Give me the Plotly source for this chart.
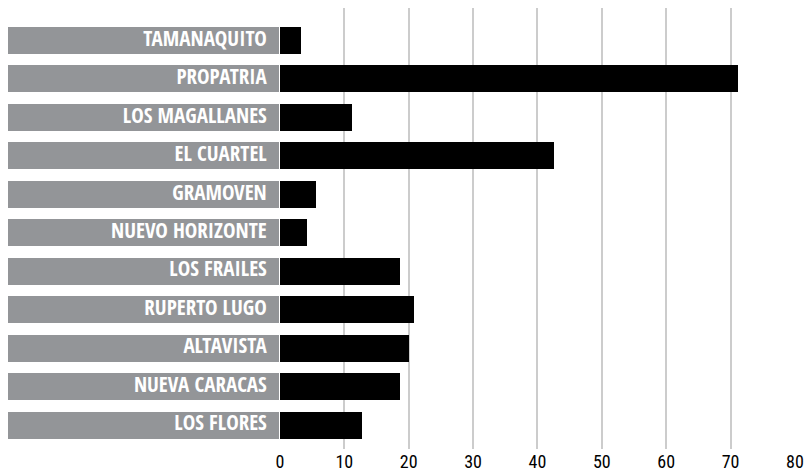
import plotly.graph_objects as go

categories = ["TAMANAQUITO", "PROPATRIA", "LOS MAGALLANES", "EL CUARTEL", "GRAMOVEN",
              "NUEVO HORIZONTE", "LOS FRAILES", "RUPERTO LUGO", "ALTAVISTA",
              "NUEVA CARACAS", "LOS FLORES"]
values = [3.3, 71.1, 11.2, 42.6, 5.6, 4.2, 18.6, 20.8, 20.0, 18.6, 12.7]
tick_vals = [0, 10, 20, 30, 40, 50, 60, 70, 80]

LABEL_FONT = "Open Sans Condensed, Roboto Condensed, DejaVu Sans Condensed, sans-serif"
TICK_FONT = "Roboto Condensed, Open Sans Condensed, DejaVu Sans Condensed, sans-serif"
GRAY = "#939598"

fig = go.Figure()

# label background boxes
fig.add_trace(go.Bar(
    y=categories, x=[1] * len(categories), orientation="h",
    marker=dict(color=GRAY, line=dict(width=0)), width=0.7,
    xaxis="x2", yaxis="y", hoverinfo="skip", showlegend=False,
))
# label text
fig.add_trace(go.Scatter(
    y=categories, x=[0.955] * len(categories), mode="text",
    text=categories, textposition="middle left",
    textfont=dict(family=LABEL_FONT, size=21, color="white", weight="bold"),
    xaxis="x2", yaxis="y", hoverinfo="skip", showlegend=False,
))
# data bars
fig.add_trace(go.Bar(
    y=categories, x=values, orientation="h",
    marker=dict(color="black", line=dict(width=0)), width=0.7,
    xaxis="x", yaxis="y", showlegend=False,
))

n = len(categories)
fig.update_layout(
    width=805, height=473,
    margin=dict(l=8, r=10, t=8, b=24, autoexpand=False),
    paper_bgcolor="white", plot_bgcolor="white",
    xaxis=dict(domain=[0.3456, 1], range=[0, 80], tickvals=tick_vals,
               showgrid=True, gridcolor="#cccccc", gridwidth=1.5,
               zeroline=False, showline=False, ticks="", automargin=False,
               ticklabelstandoff=0,
               tickfont=dict(family=TICK_FONT, size=18, color="black")),
    xaxis2=dict(domain=[0, 0.3443], range=[0, 1], anchor="y", automargin=False,
                showgrid=False, zeroline=False, showticklabels=False, showline=False),
    yaxis=dict(type="category", categoryorder="array", categoryarray=categories,
               range=[n - 1 + 0.62, -0.84], showticklabels=False, showgrid=False,
               zeroline=False, showline=False, ticks="", automargin=False),
    bargap=0,
)

fig.write_html("out.html", config={"displayModeBar": False},
               post_script="document.body.style.margin='0';")
